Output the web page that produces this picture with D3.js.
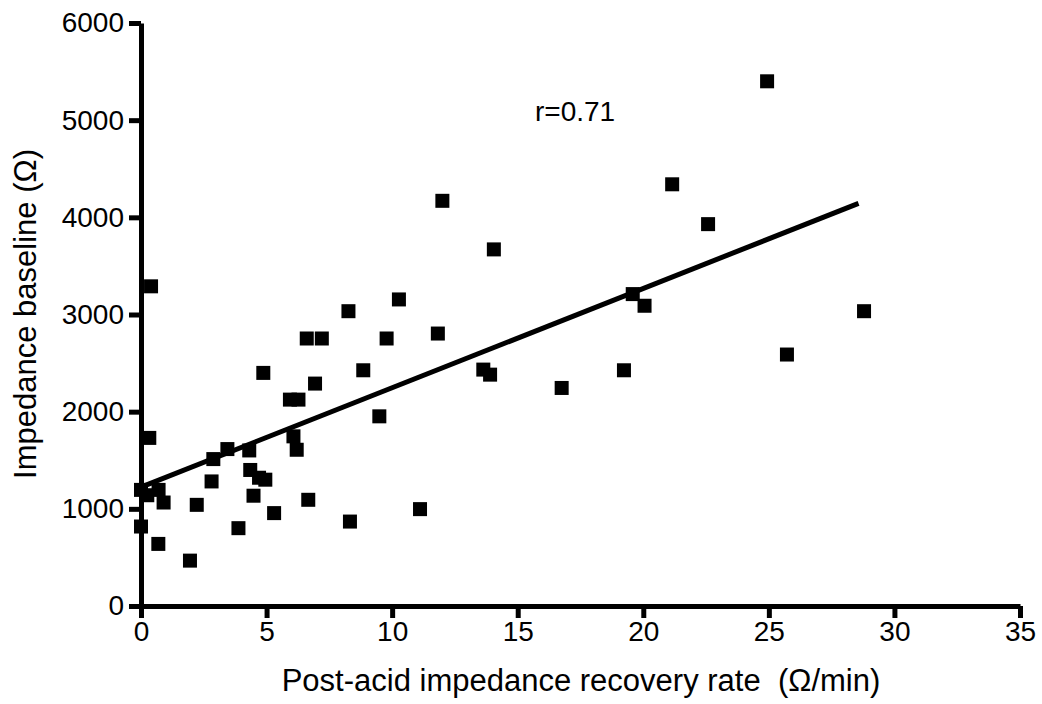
<!DOCTYPE html>
<html lang="en">
<head>
<meta charset="UTF-8">
<title>Impedance baseline vs recovery rate</title>
<script src="https://d3js.org/d3.v7.min.js"></script>
<style>
body{margin:0;background:#fff}
svg{display:block;font-family:"Liberation Sans",Arial,sans-serif}
.title{font-size:31px;fill:#000;white-space:pre}
</style>
</head>
<body>
<svg id="chart" width="1042" height="704"></svg>
<script>
// Post-acid recovery rate (Ω/min) vs impedance baseline (Ω)
var rate = [24.93, 21.15, 12.0, 22.58, 14.05, 0.40, 10.27, 19.58, 20.05, 8.26,
  28.79, 6.6, 7.2, 9.78, 11.82, 25.72, 4.87, 8.85, 13.63, 13.9,
  19.23, 6.93, 16.75, 5.93, 6.27, 9.49, 6.07, 6.2, 0.33, 2.88,
  3.44, 4.31, 4.35, 4.7, 4.95, 2.81, 4.48, 6.66, 2.22, 5.30,
  3.88, 0.69, 1.95, 11.11, 8.32, 0.0, 0.25, 0.7, 0.9, 0.0];
var baseline = [5400, 4340, 4170, 3930, 3670, 3290, 3155, 3210, 3090, 3034,
  3034, 2753, 2753, 2753, 2804, 2588, 2399, 2426, 2433, 2381,
  2426, 2289, 2244, 2124, 2124, 1952, 1746, 1608, 1730, 1512,
  1615, 1601, 1400, 1320, 1300, 1282, 1135, 1093, 1041, 956,
  801, 639, 467, 997, 869, 1195, 1140, 1195, 1065, 818];

// regression line end points
var fitX = [0, 28.57];
var fitY = [1224, 4144];

var xTicks = [0, 5, 10, 15, 20, 25, 30, 35];
var yTicks = [0, 1000, 2000, 3000, 4000, 5000, 6000];
var note = 'r=0.71';

var svg = d3.select('#chart');
var x = d3.scaleLinear().domain([0, 35]).range([141, 1020]);
var y = d3.scaleLinear().domain([0, 6000]).range([606, 23]);

function styleAxis(g) {
  g.selectAll('path, line').style('stroke', '#000').style('stroke-width', '5px');
  g.selectAll('text').style('fill', '#000').style('font-size', '28px');
}

svg.append('g')
  .attr('transform', 'translate(0,606)')
  .call(d3.axisBottom(x).tickValues(xTicks).tickFormat(d3.format('d'))
    .tickSize(12).tickSizeOuter(0).tickPadding(3))
  .call(styleAxis);

svg.append('g')
  .attr('transform', 'translate(141,0)')
  .call(d3.axisLeft(y).tickValues(yTicks).tickFormat(d3.format('d'))
    .tickSize(12).tickSizeOuter(0).tickPadding(5))
  .call(styleAxis);

var pts = d3.range(rate.length);
svg.append('g').selectAll('rect').data(pts).join('rect')
  .attr('x', function(i) { return x(rate[i]) - 7; })
  .attr('y', function(i) { return y(baseline[i]) - 7; })
  .attr('width', 14).attr('height', 14)
  .attr('fill', '#000');

svg.append('path')
  .datum(d3.range(fitX.length))
  .attr('d', d3.line().x(function(i) { return x(fitX[i]); }).y(function(i) { return y(fitY[i]); }))
  .attr('stroke', '#000').attr('stroke-width', 5).attr('fill', 'none');

svg.append('text').attr('class', 'title')
  .style('font-size', '28px')
  .attr('x', 535).attr('y', 121).text(note);

svg.append('text').attr('class', 'title')
  .attr('text-anchor', 'middle')
  .attr('x', 581).attr('y', 691)
  .text('Post-acid impedance recovery rate  (\u03a9/min)');

svg.append('text').attr('class', 'title')
  .attr('text-anchor', 'middle')
  .attr('transform', 'translate(36,314) rotate(-90)')
  .text('Impedance baseline (\u03a9)');
</script>
</body>
</html>
